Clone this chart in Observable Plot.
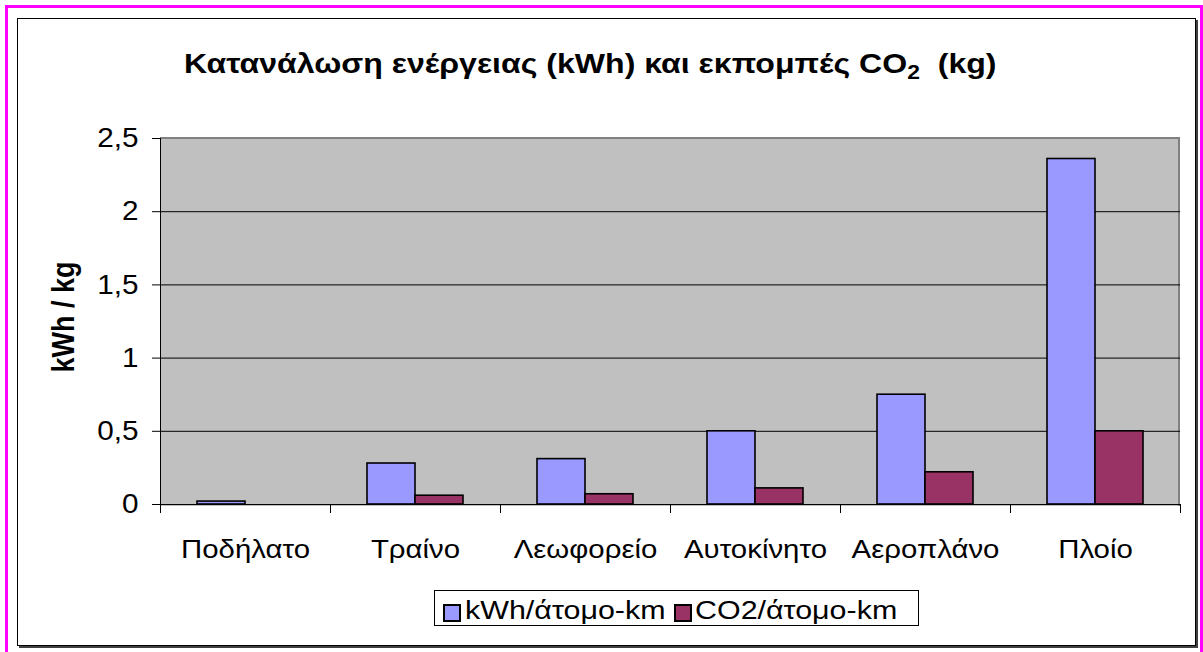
<!DOCTYPE html>
<html>
<head>
<meta charset="utf-8">
<script src="https://cdn.jsdelivr.net/npm/d3@7"></script>
<script src="https://cdn.jsdelivr.net/npm/@observablehq/plot@0.6"></script>
<style>
  html, body { margin: 0; padding: 0; background: #fff; }
  body { font-family: "Liberation Sans", Arial, sans-serif; }
  #root { position: relative; width: 1203px; height: 652px; overflow: hidden; background: #fff; }
  #magenta { position: absolute; left: 5px; top: 5px; width: 1192px; height: 720px; border: 3px solid #ff00ff; }
  #frame { position: absolute; left: 17px; top: 18px; width: 1177px; height: 626px; border: 1px solid #000; box-shadow: 2px 2px 0 #404040; background: #fff; }
  #plotbg { position: absolute; left: 160px; top: 137px; width: 1018px; height: 367px; background: #c0c0c0; border-top: 2px solid #808080; border-right: 2px solid #808080; }
  #title { position: absolute; left: 184px; top: 50px; font-weight: bold; font-size: 28px; line-height: 1; white-space: nowrap; color: #000; transform-origin: 0 0; transform: scaleX(1.145); }
  #title sub { font-size: 20px; position: relative; top: 6px; vertical-align: baseline; line-height: 0; }
  #ylabel { position: absolute; left: 64px; top: 317px; transform: translate(-50%, -50%) scaleX(1.15) rotate(-90deg); font-weight: bold; font-size: 27px; line-height: 1; white-space: nowrap; }
  #chart { position: absolute; left: 0; top: 110px; }
  #legend { position: absolute; left: 434px; top: 590px; width: 485px; height: 36px; border: 1px solid #000; box-sizing: border-box; }
  .sw { position: absolute; width: 18px; height: 18px; border: 2px solid #000; box-sizing: border-box; top: 13px; }
  .lt { position: absolute; font-size: 26px; line-height: 1; white-space: nowrap; transform-origin: 0 0; transform: scaleX(1.17); top: 6px; }
</style>
</head>
<body>
<div id="root">
  <div id="magenta"></div>
  <div id="frame"></div>
  <div id="plotbg"></div>
  <div id="title">Κατανάλωση ενέργειας (kWh) και εκπομπές CO<sub>2</sub>&nbsp; (kg)</div>
  <div id="ylabel">kWh / kg</div>
  <div id="chart"></div>
  <div id="legend"></div>
</div>
<script>
const categories = ["Ποδήλατο", "Τραίνο", "Λεωφορείο", "Αυτοκίνητο", "Αεροπλάνο", "Πλοίο"];
const seriesNames = ["kWh/άτομο-km", "CO2/άτομο-km"];
const kwhValues = [0.02, 0.28, 0.31, 0.50, 0.75, 2.36];
const co2Values = [0, 0.06, 0.07, 0.11, 0.22, 0.50];
const yTicks = [0, 0.5, 1, 1.5, 2, 2.5];
const colors = ["#9999ff", "#993366"];

const data = [];
categories.forEach((c, i) => {
  data.push({cat: c, series: seriesNames[0], value: kwhValues[i]});
  data.push({cat: c, series: seriesNames[1], value: co2Values[i]});
});
const fmt = d => String(d).replace(".", ",");

const W = 1203, H = 470;
const plot = Plot.plot({
  width: W,
  height: H,
  marginLeft: 160,
  marginRight: 23,
  marginTop: 28,
  marginBottom: 76,
  style: {background: "transparent", fontFamily: "'Liberation Sans', Arial, sans-serif", color: "#000", overflow: "visible"},
  fx: {domain: categories, padding: 0, label: null},
  x: {domain: seriesNames, paddingInner: 0, paddingOuter: 0.75, axis: null},
  y: {domain: [0, 2.5], ticks: yTicks, label: null},
  color: {domain: seriesNames, range: colors},
  marks: [
    Plot.ruleY(yTicks.filter(t => t > 0 && t < 2.5), {stroke: "#000", strokeWidth: 1}),
    Plot.barY(data.filter(d => d.value > 0), {fx: "cat", x: "series", y: "value", fill: "series", stroke: "#000", strokeWidth: 1.6}),
    Plot.ruleY([0], {stroke: "#000", strokeWidth: 1}),
    Plot.axisY({ticks: yTicks, tickFormat: fmt, tickSize: 8, tickPadding: 14, fontSize: 27, stroke: "#000", label: null}),
    Plot.axisFx({anchor: "bottom", tickSize: 0, tickPadding: 35, fontSize: 26, label: null})
  ]
});
document.getElementById("chart").appendChild(plot);

const svg = d3.select(plot);
// horizontal stretch of the tick labels, as in the reference
function stretch(sel, s) {
  sel.each(function() {
    const t = d3.select(this);
    let tr = t.attr("transform");
    if (!tr) {
      const x = +t.attr("x") || 0, y = +t.attr("y") || 0;
      tr = `translate(${x},${y})`;
      t.attr("x", null).attr("y", null);
    }
    t.attr("transform", tr + ` scale(${s},1)`);
  });
}
stretch(svg.selectAll("[aria-label='y-axis tick label'] text"), 1.1);
stretch(svg.selectAll("[aria-label='fx-axis tick label'] text"), 1.13);

// y-axis line and category-boundary ticks drawn from the library's scales
const fx = plot.scale("fx");
const y = plot.scale("y");
const y0 = y.apply(0), yTop = y.apply(2.5);
const x0 = fx.apply(categories[0]);
svg.append("line").attr("x1", x0 + 0.5).attr("x2", x0 + 0.5).attr("y1", yTop).attr("y2", y0 + 9).attr("stroke", "#000");
const bounds = categories.map(c => fx.apply(c)).concat([fx.apply(categories[categories.length - 1]) + fx.bandwidth]);
bounds.slice(1).forEach(b => {
  svg.append("line").attr("x1", b + 0.5).attr("x2", b + 0.5).attr("y1", y0).attr("y2", y0 + 9).attr("stroke", "#000");
});

// legend
const legend = document.getElementById("legend");
const swLeft = [8, 239], txtLeft = [30, 260];
seriesNames.forEach((s, i) => {
  const sw = document.createElement("div");
  sw.className = "sw";
  sw.style.left = swLeft[i] + "px";
  sw.style.background = colors[i];
  legend.appendChild(sw);
  const t = document.createElement("div");
  t.className = "lt";
  t.style.left = txtLeft[i] + "px";
  t.textContent = s;
  legend.appendChild(t);
});
</script>
</body>
</html>
